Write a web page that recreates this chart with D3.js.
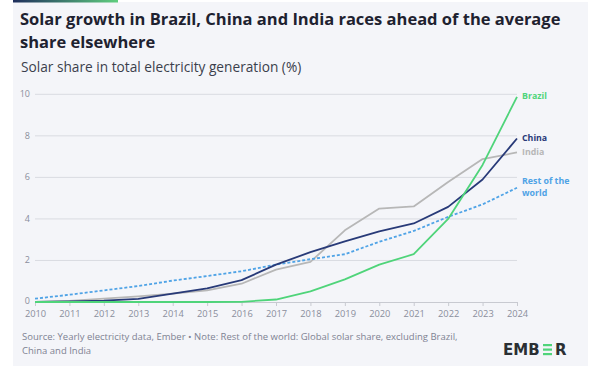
<!DOCTYPE html>
<html>
<head>
<meta charset="utf-8">
<script src="https://cdn.jsdelivr.net/npm/d3@7"></script>
<style>
  body { margin: 0; background: #fff; }
  svg { display: block; font-family: "Open Sans", "Noto Sans", sans-serif; }
</style>
</head>
<body>
<svg id="chart" width="600" height="381"></svg>
<script>
// data
var years = [2010, 2011, 2012, 2013, 2014, 2015, 2016, 2017, 2018, 2019, 2020, 2021, 2022, 2023, 2024];
var brazil = [0, 0, 0, 0, 0, 0, 0.01, 0.12, 0.51, 1.09, 1.8, 2.3, 4.0, 6.6, 9.88];
var china = [0, 0.03, 0.07, 0.15, 0.4, 0.66, 1.05, 1.8, 2.4, 2.92, 3.4, 3.78, 4.58, 5.9, 7.87];
var india = [0, 0.05, 0.16, 0.27, 0.4, 0.56, 0.88, 1.56, 1.93, 3.45, 4.5, 4.6, 5.78, 6.88, 7.2];
var restOfWorld = [0.16, 0.35, 0.56, 0.77, 1.03, 1.25, 1.48, 1.8, 2.06, 2.3, 2.9, 3.42, 4.1, 4.7, 5.5];
var yTicks = [0, 2, 4, 6, 8, 10];

var series = [
  {name: "India", values: india, color: "#b7b7b7", dash: null, label: ["India"], ly: 152},
  {name: "Rest of the world", values: restOfWorld, color: "#4fa3e6", dash: "3,2", label: ["Rest of the", "world"], ly: 181},
  {name: "China", values: china, color: "#283a78", dash: null, label: ["China"], ly: 138},
  {name: "Brazil", values: brazil, color: "#4fd47a", dash: null, label: ["Brazil"], ly: 96}
];

var svg = d3.select('#chart');

// card
svg.append('rect').attr('x', 13).attr('y', 2).attr('width', 575).attr('height', 364).attr('fill', '#f4f5f9');
var grad = svg.append('defs').append('linearGradient').attr('id', 'topbar');
grad.append('stop').attr('offset', '0%').attr('stop-color', '#1e2e5c');
grad.append('stop').attr('offset', '100%').attr('stop-color', '#5fce7e');
svg.append('rect').attr('x', 13).attr('y', 0).attr('width', 105).attr('height', 2.5).attr('fill', 'url(#topbar)');

// titles
svg.append('text').attr('x', 20).attr('y', 25).attr('font-size', 16.5).attr('font-weight', 700).attr('fill', '#1e2230')
  .text('Solar growth in Brazil, China and India races ahead of the average');
svg.append('text').attr('x', 20).attr('y', 48).attr('font-size', 16.5).attr('font-weight', 700).attr('fill', '#1e2230')
  .text('share elsewhere');
svg.append('text').attr('x', 21).attr('y', 72).attr('font-size', 13.7).attr('fill', '#3b3f4c')
  .text('Solar share in total electricity generation (%)');

var x = d3.scaleLinear().domain([2010, 2024]).range([35, 517]);
var y = d3.scaleLinear().domain([0, 10]).range([302, 94.3]);

// grid
svg.append('g').selectAll('line').data(yTicks.filter(function(d) { return d > 0; }))
  .enter().append('line')
  .attr('x1', 35).attr('x2', 517)
  .attr('y1', function(d) { return y(d); }).attr('y2', function(d) { return y(d); })
  .attr('stroke', '#d9dbe1').attr('stroke-width', 1);

svg.append('g').selectAll('text').data(yTicks)
  .enter().append('text')
  .attr('x', 30).attr('y', function(d) { return y(d) + (d === 0 ? 1.5 : 3); })
  .attr('text-anchor', 'end').attr('font-size', 9).attr('fill', '#8a8e9c')
  .text(function(d) { return d; });

// x axis
var xAxis = d3.axisBottom(x).tickValues(years).tickFormat(d3.format('d')).tickSize(4).tickPadding(4);
var gx = svg.append('g').attr('transform', 'translate(0,' + y(0) + ')').call(xAxis);
gx.select('.domain').attr('stroke', '#c8cad1');
gx.selectAll('.tick line').attr('stroke', '#c8cad1');
gx.selectAll('.tick text').attr('font-size', 9.3).attr('fill', '#8a8e9c').attr('font-family', '"Open Sans", sans-serif');

// lines
var line = d3.line()
  .x(function(d, i) { return x(years[i]); })
  .y(function(d) { return y(d); });

svg.append('g').selectAll('path').data(series)
  .enter().append('path')
  .attr('d', function(d) { return line(d.values); })
  .attr('fill', 'none')
  .attr('stroke', function(d) { return d.color; })
  .attr('stroke-width', 1.8)
  .attr('stroke-dasharray', function(d) { return d.dash; })
  .attr('stroke-linejoin', 'round');

// end labels
svg.append('g').selectAll('g').data(series)
  .enter().append('g')
  .each(function(d) {
    var g = d3.select(this);
    d.label.forEach(function(s, i) {
      g.append('text').attr('x', 522).attr('y', d.ly + 3 + i * 11.5)
        .attr('font-size', 8.8).attr('font-weight', 700)
        .attr('fill', d.color).text(s);
    });
  });

// footer
svg.append('text').attr('x', 22).attr('y', 340).attr('font-size', 9.5).attr('fill', '#7e8292')
  .text('Source: Yearly electricity data, Ember \u2022 Note: Rest of the world: Global solar share, excluding Brazil,');
svg.append('text').attr('x', 22).attr('y', 354).attr('font-size', 9.5).attr('fill', '#7e8292')
  .text('China and India');

// logo
var logo = svg.append('g').attr('transform', 'translate(503,355)');
logo.append('text').attr('x', 0).attr('y', 0).attr('font-size', 15).attr('font-weight', 800)
  .attr('fill', '#2b2f33').attr('font-family', '"DejaVu Sans", sans-serif').text('EMB');
var eBars = [0, 1, 2];
logo.append('g').selectAll('rect').data(eBars).enter().append('rect')
  .attr('x', 40).attr('y', function(d) { return -11 + d * 4.5; })
  .attr('width', 9).attr('height', 2.2).attr('fill', '#4fd47a');
logo.append('text').attr('x', 52).attr('y', 0).attr('font-size', 15).attr('font-weight', 800)
  .attr('fill', '#2b2f33').attr('font-family', '"DejaVu Sans", sans-serif').text('R');
</script>
</body>
</html>
